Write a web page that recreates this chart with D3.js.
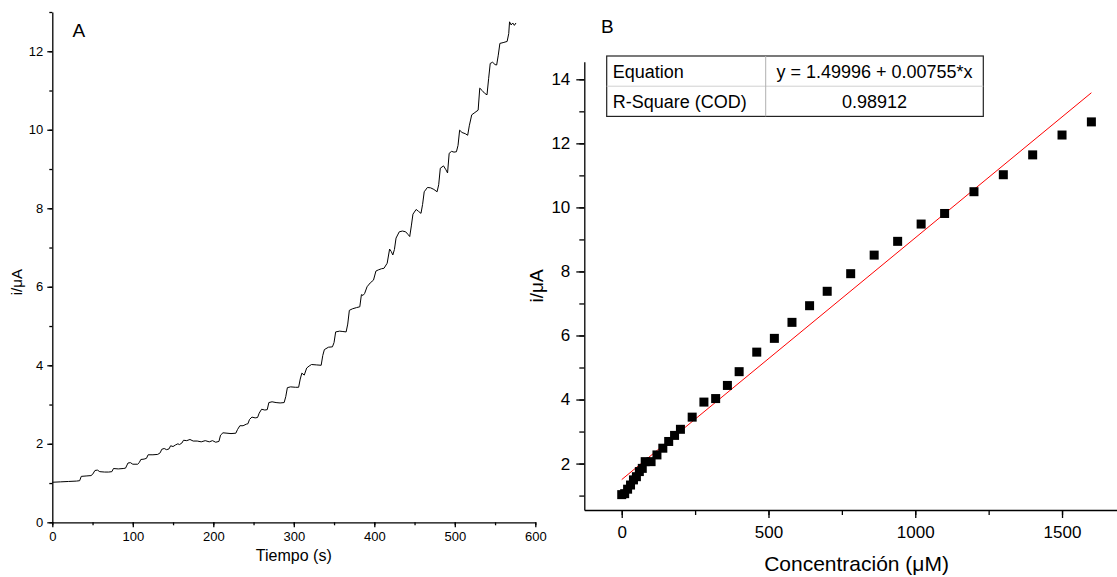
<!DOCTYPE html>
<html>
<head>
<meta charset="utf-8">
<script src="https://cdn.jsdelivr.net/npm/d3@7"></script>
<style>
  body { margin: 0; background: #fff; }
  svg { font-family: "Liberation Sans", Arial, sans-serif; }
</style>
</head>
<body>
<div id="viz"></div>
<script>
// 1) data — panel A: amperometric trace (read off the picture)
const timeA = [0, 10, 20, 30, 34, 36, 42, 48, 50, 53, 56, 59, 65, 70, 74, 76, 82, 88, 91, 94, 97, 100, 106, 108,
  110, 114, 117, 119, 125, 131, 134, 136, 139, 142, 145, 147, 150, 153, 156, 158, 161, 163, 167, 171, 175, 180,
  185, 190, 195, 199, 203, 207, 209, 212, 217, 222, 228, 230, 233, 237, 241, 243, 245, 248, 252, 255, 257, 260,
  264, 267, 269, 273, 278, 283, 288, 290, 292, 296, 302, 306, 308, 310, 313, 316, 319, 322, 328, 334, 336, 338,
  343, 348, 350, 352, 357, 361, 365, 367, 369, 373, 378, 382, 384, 386, 388, 391, 395, 399, 402, 405, 409, 412,
  416, 419, 421, 423, 425, 427, 431, 435, 439, 442, 444, 446, 448, 452, 455, 458, 460, 462, 466, 470, 474, 478,
  480, 482, 486, 489, 491, 493, 496, 499, 502, 504, 506, 509, 513, 516, 518, 521, 525, 529, 531, 534, 537, 540,
  542, 544, 547, 550, 552, 554, 556, 560, 565, 567, 568, 570, 572, 574, 576];
const currentA = [1.02, 1.03, 1.04, 1.05, 1.06, 1.17, 1.18, 1.19, 1.22, 1.32, 1.33, 1.29, 1.28, 1.28, 1.29, 1.37,
  1.36, 1.37, 1.38, 1.51, 1.52, 1.48, 1.48, 1.52, 1.60, 1.61, 1.63, 1.72, 1.72, 1.73, 1.77, 1.86, 1.88, 1.85,
  1.87, 1.95, 1.93, 1.97, 2.00, 1.98, 2.02, 2.09, 2.08, 2.11, 2.07, 2.07, 2.05, 2.08, 2.05, 2.08, 2.04, 2.06,
  2.22, 2.28, 2.27, 2.26, 2.27, 2.36, 2.46, 2.46, 2.50, 2.51, 2.62, 2.68, 2.66, 2.67, 2.78, 2.88, 2.86, 2.87,
  3.05, 3.07, 3.05, 3.04, 3.05, 3.20, 3.43, 3.45, 3.44, 3.44, 3.65, 3.80, 3.75, 3.93, 3.98, 4.02, 4.01, 4.00,
  4.25, 4.40, 4.46, 4.47, 4.58, 4.85, 4.87, 4.86, 4.85, 5.05, 5.40, 5.44, 5.47, 5.49, 5.80, 5.78, 5.83, 6.00,
  6.10, 6.17, 6.40, 6.43, 6.46, 6.47, 6.60, 6.96, 6.90, 6.81, 6.95, 7.24, 7.40, 7.42, 7.40, 7.33, 7.28, 7.55,
  7.85, 7.97, 7.92, 7.87, 8.10, 8.42, 8.53, 8.52, 8.48, 8.42, 8.60, 9.02, 9.08, 8.98, 8.90, 9.40, 9.45, 9.43,
  9.44, 9.60, 9.99, 9.93, 9.90, 9.86, 10.10, 10.38, 10.44, 10.50, 11.06, 11.00, 10.93, 10.89, 11.30, 11.69,
  11.72, 11.66, 11.65, 11.90, 12.20, 12.22, 12.25, 12.45, 12.75, 12.67, 12.72, 12.66, 12.72];
const ticksAX = [0, 100, 200, 300, 400, 500, 600];
const ticksAY = [0, 2, 4, 6, 8, 10, 12];

// panel B: calibration points + linear fit
const concB = [0, 10, 20, 30, 40, 50, 60, 70, 80, 100, 120, 140, 160, 180, 200, 240, 280, 320, 360, 400,
  460, 520, 580, 640, 700, 780, 860, 940, 1020, 1100, 1200, 1300, 1400, 1500, 1600];
const currentB = [1.03, 1.06, 1.20, 1.33, 1.49, 1.59, 1.75, 1.85, 2.06, 2.06, 2.27, 2.48, 2.69, 2.88, 3.07,
  3.45, 3.92, 4.03, 4.44, 4.87, 5.48, 5.91, 6.41, 6.93, 7.38, 7.93, 8.51, 8.94, 9.48, 9.81, 10.49, 11.02,
  11.64, 12.26, 12.67];
const fitIntercept = 1.49996, fitSlope = 0.00755;
const fitRange = [0, 1600];
const ticksBX = [0, 500, 1000, 1500];
const ticksBY = [2, 4, 6, 8, 10, 12, 14];
const tableRows = [["Equation", "y = 1.49996 + 0.00755*x"], ["R-Square (COD)", "0.98912"]];

// 2) svg
const W = 1117, H = 577;
const svg = d3.select('#viz').append('svg').attr('width', W).attr('height', H);

// helper: major + minor ticks
function drawAxis(g, axisFn, scale, major, minor, majorLen, minorLen, fontSize, pad) {
  g.call(axisFn(scale).tickValues(minor).tickSize(minorLen).tickFormat('').tickSizeOuter(0));
  const gm = g.append('g').call(axisFn(scale).tickValues(major).tickSize(majorLen)
    .tickPadding(pad).tickFormat(d3.format('d')).tickSizeOuter(0));
  gm.select('.domain').remove();
  g.selectAll('path.domain').attr('stroke', '#000').attr('stroke-width', 1.3);
  g.selectAll('line').attr('stroke', '#000').attr('stroke-width', 1.3);
  g.selectAll('text').attr('font-size', fontSize).attr('fill', '#000')
    .attr('font-family', '"Liberation Sans", Arial, sans-serif');
}

// 3) panel A
const xA = d3.scaleLinear().domain([0, 600]).range([52.3, 535.3]);
const yA = d3.scaleLinear().domain([0, 13]).range([522.3, 12]);
const gA = svg.append('g');

drawAxis(gA.append('g').attr('transform', `translate(0,${yA(0)})`), d3.axisBottom, xA,
  ticksAX, d3.range(0, 601, 50), 5, 3, 13, 4);
drawAxis(gA.append('g').attr('transform', `translate(${xA(0)},0)`), d3.axisLeft, yA,
  ticksAY, d3.range(0, 13.01, 1), 5, 3, 13, 4);

const traceA = timeA.map((t, k) => [t, currentA[k]]);
gA.append('path')
  .datum(traceA)
  .attr('fill', 'none')
  .attr('stroke', '#000')
  .attr('stroke-width', 1)
  .attr('d', d3.line().x(d => xA(d[0])).y(d => yA(d[1])));

gA.append('text').attr('x', 72.5).attr('y', 37).attr('font-size', 19).text('A');
gA.append('text').attr('x', (xA(0) + xA(600)) / 2).attr('y', 561)
  .attr('text-anchor', 'middle').attr('font-size', 16).text('Tiempo (s)');
gA.append('text').attr('transform', `translate(22,${(yA(0) + yA(13)) / 2 + 15}) rotate(-90)`)
  .attr('text-anchor', 'middle').attr('font-size', 15).text('i/μA');

// 4) panel B
const xB = d3.scaleLinear().domain([-127.5, 1690]).range([584.3, 1117.8]);
const yB = d3.scaleLinear().domain([0.55, 14.55]).range([510, 61.7]);
const gB = svg.append('g');

drawAxis(gB.append('g').attr('transform', `translate(0,${yB.range()[0]})`), d3.axisBottom, xB,
  ticksBX, d3.range(0, 1690, 250), 8, 5, 17, 8);
drawAxis(gB.append('g').attr('transform', `translate(${xB.range()[0]},0)`), d3.axisLeft, yB,
  ticksBY, d3.range(1, 14.6, 1), 8, 5, 17, 6);

gB.append('line')
  .attr('x1', xB(fitRange[0])).attr('y1', yB(fitIntercept + fitSlope * fitRange[0]))
  .attr('x2', xB(fitRange[1])).attr('y2', yB(fitIntercept + fitSlope * fitRange[1]))
  .attr('stroke', '#ff0000').attr('stroke-width', 1);

const ptsB = concB.map((c, k) => ({ c, v: currentB[k] }));
const sq = 9;
gB.selectAll('rect.pt').data(ptsB).enter()
  .append('rect').attr('class', 'pt')
  .attr('x', d => xB(d.c) - sq / 2).attr('y', d => yB(d.v) - sq / 2)
  .attr('width', sq).attr('height', sq).attr('fill', '#000');

// fit table
const tb = { x: 606.7, y: 56, w: 376.6, rowH: 30.2, col: 159 };
const gT = gB.append('g');
gT.append('rect').attr('x', tb.x).attr('y', tb.y).attr('width', tb.w).attr('height', tb.rowH * 2)
  .attr('fill', '#fff').attr('stroke', '#222').attr('stroke-width', 1.2);
gT.append('line').attr('x1', tb.x).attr('x2', tb.x + tb.w).attr('y1', tb.y + tb.rowH).attr('y2', tb.y + tb.rowH)
  .attr('stroke', '#d0d0d0').attr('stroke-width', 1);
gT.append('line').attr('x1', tb.x + tb.col).attr('x2', tb.x + tb.col).attr('y1', tb.y).attr('y2', tb.y + tb.rowH * 2)
  .attr('stroke', '#b0b0b0').attr('stroke-width', 1);
tableRows.forEach((r, k) => {
  const yy = tb.y + tb.rowH * k + 21.5;
  gT.append('text').attr('x', tb.x + 6).attr('y', yy).attr('font-size', 18).text(r[0]);
  gT.append('text').attr('x', tb.x + tb.col + (tb.w - tb.col) / 2).attr('y', yy)
    .attr('text-anchor', 'middle').attr('font-size', 18).text(r[1]);
});

gB.append('text').attr('x', 601).attr('y', 32.5).attr('font-size', 19).text('B');
gB.append('text').attr('x', (xB(0) + xB(1600)) / 2 + 0).attr('y', 571)
  .attr('text-anchor', 'middle').attr('font-size', 21).text('Concentración (μM)');
gB.append('text').attr('transform', `translate(543,${(yB.range()[0] + yB.range()[1]) / 2}) rotate(-90)`)
  .attr('text-anchor', 'middle').attr('font-size', 19).text('i/μA');
</script>
</body>
</html>
